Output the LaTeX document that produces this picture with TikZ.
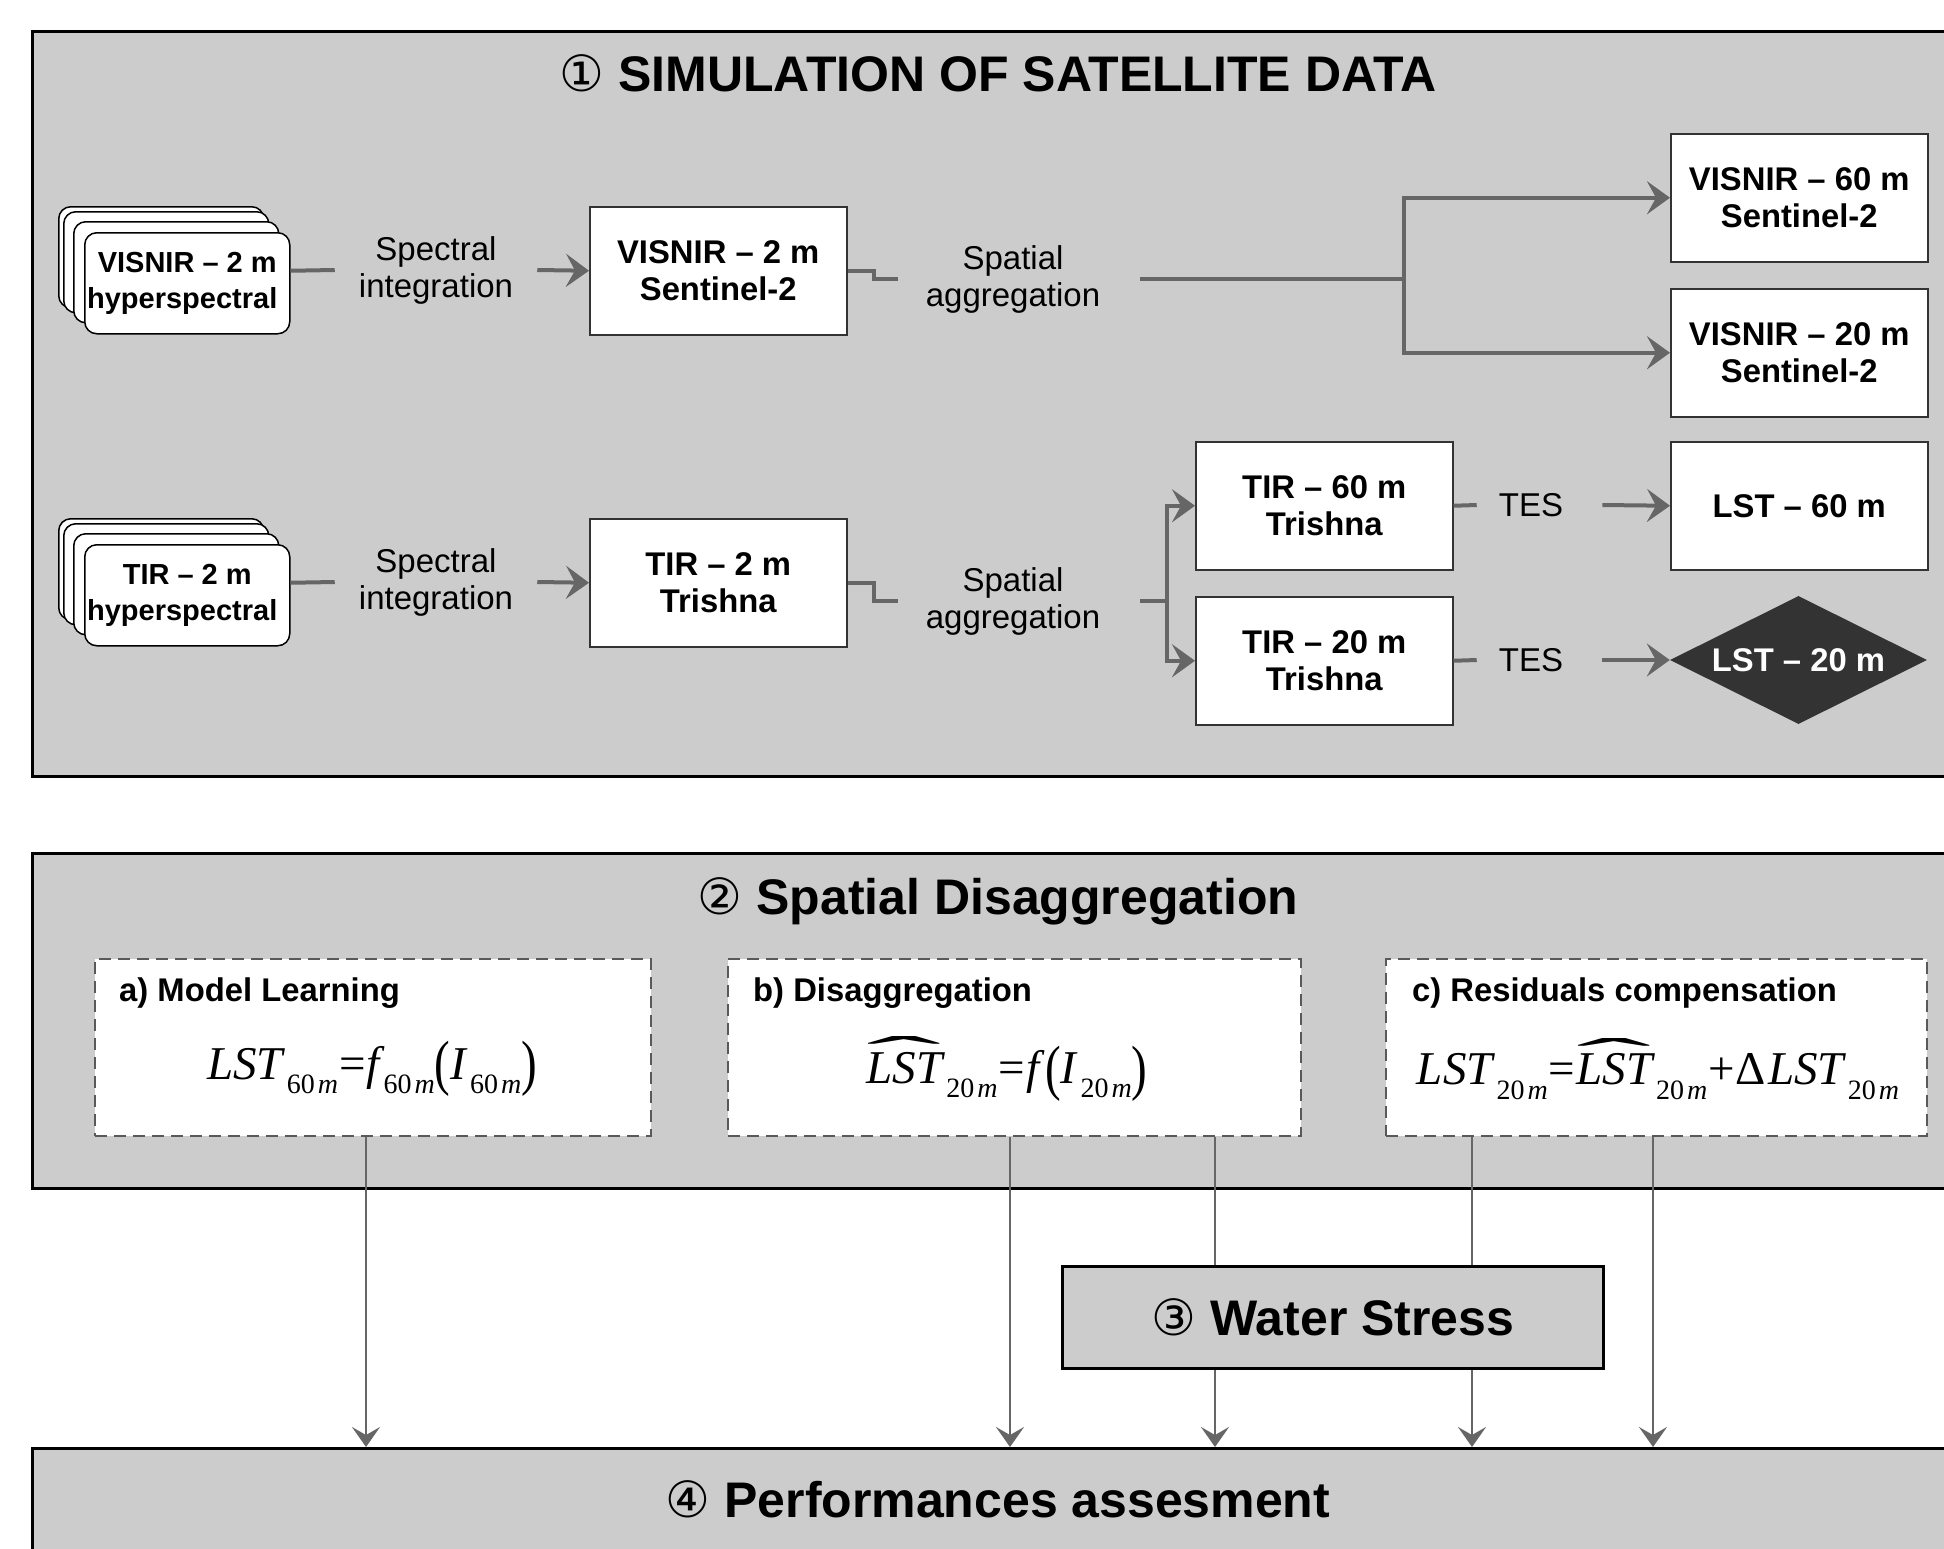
\documentclass[tikz,border=0pt]{standalone}
\usepackage{fontspec}
\usepackage{graphicx}
\setmainfont{Liberation Sans}
\newfontfamily\circfont{DejaVu Sans}
\newfontfamily\eqfont{Liberation Serif}
\usetikzlibrary{arrows.meta,shapes.geometric}
\definecolor{panelgray}{HTML}{CCCCCC}
\definecolor{conngray}{HTML}{666666}
\definecolor{darkdia}{HTML}{333333}
\definecolor{boxline}{HTML}{333333}
\newcommand{\fs}[2]{\fontsize{#1}{#2}\selectfont}
\newcommand{\circnum}[1]{{\circfont\mdseries #1}}
\newcommand{\eqL}{{\eqfont\itshape LST}}
\newcommand{\eqsub}[1]{\kern4pt\raisebox{-0.3em}{\fontsize{28}{28}\selectfont\eqfont\upshape #1\kern3pt\itshape m}}
\newsavebox{\hatbox}
\newcommand{\eqH}{\leavevmode\sbox{\hatbox}{\eqL}%
  \hbox to \wd\hatbox{\hss\raisebox{0.22em}{\scalebox{4.8}[1.1]{\eqfont\upshape ˆ}}\hss}%
  \kern-\wd\hatbox\usebox{\hatbox}}
\newcommand{\eqP}[1]{\raisebox{-0.1em}{\scalebox{1}[1.3]{\eqfont\upshape #1}}}
\newcommand{\eqop}[1]{\kern1pt{\eqfont\upshape #1}\kern1pt}
\tikzset{
  panel/.style={draw=black, line width=3pt, fill=panelgray, anchor=north west,
    minimum width=1933pt, inner sep=0pt},
  paneltitle/.style={font=\fs{50}{60}\bfseries, anchor=base, inner sep=0pt},
  whitebox/.style={draw=boxline, line width=1.5pt, fill=white, anchor=north west,
    minimum width=257pt, minimum height=128pt, inner sep=0pt, align=center,
    font=\fs{32.8}{37}\bfseries},
  stackbox/.style={draw=black, line width=1.5pt, fill=white, rounded corners=12pt,
    anchor=north west, minimum width=205pt, minimum height=101pt, inner sep=0pt,
    align=center, font=\fs{29}{36}\bfseries},
  lbl/.style={font=\fs{33}{37}, align=center, inner ysep=0pt},
  conn/.style={draw=conngray, line width=4pt},
  arrowend/.style={-{Stealth[length=23pt,width=33pt,inset=9pt]}},
  thinconn/.style={draw=conngray, line width=2.5pt},
  thinarrow/.style={-{Stealth[length=20pt,width=28pt,inset=8pt]}},
  dashbox/.style={draw=black!65, line width=1.5pt, dash pattern=on 12pt off 7pt,
    fill=white, anchor=north west, minimum height=177pt, inner sep=0pt},
  sublbl/.style={font=\fs{32.8}{37}\bfseries, anchor=base west, inner sep=0pt},
  eqn/.style={font=\fs{47}{54}, inner sep=0pt},
}
\begin{document}
\begin{tikzpicture}[x=1pt,y=-1pt]
\clip (0,0) rectangle (1944,1548);
\fill[white] (0,0) rectangle (1944,1548);

% ---------- panels
\node[panel, minimum height=745pt] (p1) at (31,30) {};
\node[panel, minimum height=335pt] (p2) at (31,852) {};
\node[panel, minimum height=200pt] (perf) at (31,1447) {};

\node[paneltitle] (t1) at (998,91) {\circnum{①}\ SIMULATION OF SATELLITE DATA};
\node[paneltitle] (t2) at (998,914) {\circnum{②}\ Spatial Disaggregation};
\node[paneltitle] (t4) at (998,1517) {\circnum{④}\ Performances assesment};

% ---------- VISNIR row
\node[stackbox] (hypV4) at (58,206) {};
\node[stackbox] (hypV3) at (63,211) {};
\node[stackbox] (hypV2) at (73,221) {};
\node[stackbox] (hypV) at (84,232) {VISNIR – 2 m\\hyperspectral\hspace*{10pt}};

\node[lbl, inner xsep=24pt] (siV) at (436,270) {Spectral\\integration};
\node[whitebox] (s2V) at (589,206) {VISNIR – 2 m\\Sentinel-2};
\node[lbl, inner xsep=28pt] (saV) at (1013,279) {Spatial\\aggregation};
\node[whitebox] (v60) at (1670,133) {VISNIR – 60 m\\Sentinel-2};
\node[whitebox] (v20) at (1670,288) {VISNIR – 20 m\\Sentinel-2};
\coordinate (splitV) at (1404,279);

\draw[conn] (hypV.east |- s2V.west) -- (siV.west);
\draw[conn, arrowend] (siV.east) -- (s2V.west);
\draw[conn] (s2V.east) -- ++(26,0) |- (saV.west);
\draw[conn] ([xshift=12pt]saV.east) -- (splitV);
\draw[conn, line width=3.5pt, arrowend] (splitV) |- (v60.west);
\draw[conn, line width=3.5pt, arrowend] (splitV) |- (v20.west);

% ---------- TIR row
\node[stackbox] (hypT4) at (58,518) {};
\node[stackbox] (hypT3) at (63,523) {};
\node[stackbox] (hypT2) at (73,533) {};
\node[stackbox] (hypT) at (84,544) {TIR – 2 m\\hyperspectral\hspace*{10pt}};

\node[lbl, inner xsep=24pt] (siT) at (436,582) {Spectral\\integration};
\node[whitebox] (s2T) at (589,518) {TIR – 2 m\\Trishna};
\node[lbl, inner xsep=28pt] (saT) at (1013,601) {Spatial\\aggregation};
\node[whitebox] (t60) at (1195,441) {TIR – 60 m\\Trishna};
\node[whitebox] (t20) at (1195,596) {TIR – 20 m\\Trishna};
\node[whitebox] (l60) at (1670,441) {LST – 60 m};
\node[diamond, aspect=2, fill=darkdia, minimum width=257pt, minimum height=128pt,
  inner sep=0pt, text=white, font=\fs{32.8}{37}\bfseries] (l20) at (1798.5,660) {LST – 20 m};
\node[lbl, inner xsep=22pt] (tes1) at (1531,505) {TES};
\node[lbl, inner xsep=22pt] (tes2) at (1531,660) {TES};
\coordinate (splitT) at (1167,601);

\draw[conn] (hypT.east |- s2T.west) -- (siT.west);
\draw[conn, arrowend] (siT.east) -- (s2T.west);
\draw[conn] (s2T.east) -- ++(26,0) |- (saT.west);
\draw[conn] ([xshift=12pt]saT.east) -- (splitT);
\draw[conn, line width=3.5pt, arrowend] (splitT) |- (t60.west);
\draw[conn, line width=3.5pt, arrowend] (splitT) |- (t20.west);
\draw[conn] (t60.east) -- (tes1.west);
\draw[conn, arrowend] ([xshift=17pt]tes1.east) -- (l60.west);
\draw[conn] (t20.east) -- (tes2.west);
\draw[conn, arrowend] ([xshift=17pt]tes2.east) -- (l20.west);

% ---------- Spatial disaggregation boxes
\node[dashbox, minimum width=556pt] (dashA) at (94,958) {};
\node[dashbox, minimum width=573pt] (dashB) at (727,958) {};
\node[dashbox, minimum width=541pt] (dashC) at (1385,958) {};

\node[sublbl] (labA) at (119,1001) {a) Model Learning};
\node[sublbl] (labB) at (753,1001) {b) Disaggregation};
\node[sublbl] (labC) at (1412,1001) {c) Residuals compensation};

\node[eqn] (eqA) at (372,1069) {\eqL\eqsub{60}\eqop{=}{\eqfont\itshape f}\eqsub{60}\eqP{(}{\eqfont\itshape I}\eqsub{60}\eqP{)}};
\node[eqn] (eqB) at (1007,1069) {\eqH\eqsub{20}\eqop{=}{\eqfont\itshape f}\kern6pt\eqP{(}{\eqfont\itshape I}\eqsub{20}\eqP{)}};
\node[eqn] (eqC) at (1658,1069) {\eqL\eqsub{20}\eqop{=}\eqH\eqsub{20}\eqop{+}{\eqfont\upshape Δ}\kern2pt\eqL\eqsub{20}};

% ---------- Water stress
\node[draw=black, line width=3pt, fill=panelgray, anchor=north west, minimum width=541pt,
  minimum height=102pt, inner sep=0pt, font=\fs{50}{60}\bfseries] (ws) at (1061,1265)
  {\circnum{③}\ Water Stress};

\coordinate (xa) at (366,0);
\coordinate (xb1) at (1010,0);
\coordinate (xb2) at (1215,0);
\coordinate (xc1) at (1472,0);
\coordinate (xc2) at (1653,0);

\draw[thinconn, thinarrow] (dashA.south -| xa) -- (perf.north -| xa);
\draw[thinconn, thinarrow] (dashB.south -| xb1) -- (perf.north -| xb1);
\draw[thinconn] (dashB.south -| xb2) -- (ws.north -| xb2);
\draw[thinconn, thinarrow] (ws.south -| xb2) -- (perf.north -| xb2);
\draw[thinconn] (dashC.south -| xc1) -- (ws.north -| xc1);
\draw[thinconn, thinarrow] (ws.south -| xc1) -- (perf.north -| xc1);
\draw[thinconn, thinarrow] (dashC.south -| xc2) -- (perf.north -| xc2);
\end{tikzpicture}
\end{document}
